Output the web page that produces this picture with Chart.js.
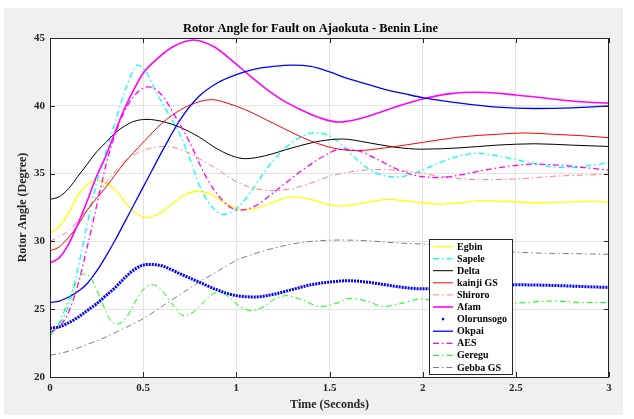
<!DOCTYPE html>
<html lang="en">
<head>
<meta charset="UTF-8">
<title>Rotor Angle for Fault on Ajaokuta - Benin Line</title>
<script src="https://cdn.jsdelivr.net/npm/chart.js"></script>
<style>
  html, body { margin: 0; padding: 0; background: #fff; }
</style>
</head>
<body>
<canvas id="rotorChart" width="634" height="419"></canvas>
<script>
// time (s), rotor angle (degree) pairs
const egbin = [[0,30.6],[0.05,31.1],[0.1,32.1],[0.15,33.4],[0.2,34.2],[0.26,34.5],[0.3,34.3],[0.35,33.8],[0.42,32.6],[0.47,32.0],[0.52,31.75],[0.58,32.0],[0.65,32.7],[0.72,33.4],[0.79,33.7],[0.86,33.5],[0.93,32.9],[1.0,32.45],[1.05,32.3],[1.12,32.5],[1.2,32.9],[1.3,33.3],[1.4,33.1],[1.5,32.7],[1.56,32.6],[1.65,32.75],[1.75,33.0],[1.81,33.1],[1.9,33.0],[2.0,32.85],[2.08,32.75],[2.2,32.85],[2.31,33.0],[2.45,32.95],[2.6,32.85],[2.75,32.9],[2.9,32.95],[3.0,32.9]];
const sapele = [[0,23.2],[0.05,23.9],[0.1,25.3],[0.15,28.0],[0.2,31.3],[0.25,34.3],[0.3,36.6],[0.35,38.8],[0.4,41.0],[0.44,42.4],[0.47,43.0],[0.51,42.6],[0.57,41.0],[0.64,39.3],[0.7,37.8],[0.75,36.1],[0.8,34.2],[0.86,32.7],[0.93,32.0],[1.0,32.4],[1.07,33.5],[1.13,34.7],[1.2,36.0],[1.3,37.3],[1.42,38.0],[1.5,37.8],[1.56,37.2],[1.65,36.0],[1.74,35.1],[1.86,34.75],[1.97,35.1],[2.09,35.8],[2.2,36.3],[2.29,36.5],[2.4,36.3],[2.55,35.9],[2.7,35.5],[2.8,35.45],[2.9,35.6],[3.0,35.8]];
const delta = [[0,33.1],[0.05,33.3],[0.1,33.9],[0.15,34.8],[0.2,35.7],[0.25,36.6],[0.3,37.3],[0.35,38.0],[0.4,38.5],[0.45,38.85],[0.52,39.0],[0.6,38.85],[0.7,38.4],[0.8,37.7],[0.9,36.8],[1.0,36.2],[1.05,36.1],[1.15,36.3],[1.3,36.9],[1.45,37.4],[1.57,37.55],[1.7,37.3],[1.85,36.95],[2.0,36.8],[2.2,36.9],[2.4,37.1],[2.6,37.2],[2.8,37.1],[3.0,37.0]];
const kainji = [[0,29.3],[0.05,29.6],[0.1,30.3],[0.15,31.2],[0.2,32.3],[0.3,34.0],[0.4,35.8],[0.5,37.3],[0.6,38.7],[0.7,39.7],[0.8,40.3],[0.87,40.45],[0.95,40.2],[1.05,39.7],[1.2,38.7],[1.4,37.4],[1.55,36.8],[1.65,36.7],[1.8,36.9],[2.0,37.3],[2.2,37.7],[2.4,37.9],[2.55,38.0],[2.7,37.9],[2.85,37.8],[3.0,37.65]];
const shiroro = [[0,30.0],[0.1,30.8],[0.2,32.4],[0.3,34.3],[0.4,35.9],[0.5,36.7],[0.6,37.0],[0.7,36.8],[0.8,36.1],[0.9,35.3],[1.0,34.4],[1.1,33.9],[1.2,33.75],[1.3,33.9],[1.4,34.3],[1.5,34.8],[1.6,35.1],[1.75,35.3],[1.9,35.2],[2.1,34.8],[2.3,34.55],[2.5,34.6],[2.7,34.8],[3.0,34.95]];
const afam = [[0,28.4],[0.05,28.8],[0.1,29.8],[0.15,31.3],[0.2,33.0],[0.25,34.8],[0.3,36.3],[0.35,38.1],[0.4,39.8],[0.45,41.2],[0.5,42.4],[0.57,43.4],[0.66,44.35],[0.77,44.85],[0.88,44.35],[0.98,43.3],[1.07,42.25],[1.16,41.25],[1.25,40.4],[1.34,39.75],[1.45,39.1],[1.55,38.8],[1.7,39.2],[1.85,39.9],[2.0,40.5],[2.15,40.9],[2.3,41.0],[2.5,40.8],[2.7,40.5],[2.85,40.3],[3.0,40.2]];
const olorunsogo = [[0,23.6],[0.05,23.7],[0.1,24.0],[0.15,24.4],[0.2,24.9],[0.25,25.4],[0.3,26.0],[0.35,26.6],[0.4,27.3],[0.45,27.9],[0.52,28.3],[0.6,28.2],[0.7,27.6],[0.8,27.0],[0.9,26.4],[1.0,26.0],[1.1,25.9],[1.2,26.1],[1.3,26.45],[1.4,26.8],[1.5,27.0],[1.6,27.1],[1.7,27.0],[1.8,26.8],[1.9,26.6],[2.0,26.5],[2.1,26.5],[2.3,26.6],[2.5,26.8],[2.7,26.75],[2.9,26.65],[3.0,26.6]];
const okpai = [[0,25.5],[0.05,25.6],[0.1,25.9],[0.15,26.3],[0.2,26.9],[0.25,27.8],[0.3,28.9],[0.35,30.1],[0.4,31.4],[0.45,32.7],[0.5,34.0],[0.55,35.3],[0.6,36.6],[0.7,39.0],[0.8,40.7],[0.9,41.7],[1.0,42.3],[1.1,42.7],[1.2,42.9],[1.3,43.0],[1.4,42.9],[1.5,42.5],[1.6,42.0],[1.7,41.6],[1.8,41.2],[1.9,40.9],[2.0,40.6],[2.2,40.2],[2.4,39.9],[2.6,39.8],[2.8,39.85],[3.0,40.0]];
const aes = [[0,23.3],[0.05,23.7],[0.1,24.8],[0.15,26.8],[0.2,29.6],[0.25,32.6],[0.3,35.6],[0.35,37.9],[0.4,39.6],[0.45,40.7],[0.5,41.3],[0.53,41.4],[0.6,40.8],[0.66,39.5],[0.75,37.3],[0.81,35.5],[0.88,33.8],[0.97,32.5],[1.02,32.3],[1.1,32.6],[1.2,33.6],[1.3,34.7],[1.38,35.5],[1.47,36.3],[1.56,36.8],[1.65,36.7],[1.75,36.1],[1.85,35.4],[1.95,34.9],[2.09,34.7],[2.2,34.9],[2.35,35.3],[2.5,35.6],[2.6,35.7],[2.75,35.6],[2.9,35.4],[3.0,35.25]];
const geregu = [[0,23.0],[0.05,24.0],[0.1,25.7],[0.15,27.2],[0.18,27.6],[0.22,27.3],[0.27,25.8],[0.32,24.3],[0.36,23.9],[0.41,24.4],[0.46,25.6],[0.51,26.6],[0.55,26.8],[0.6,26.4],[0.66,25.3],[0.72,24.5],[0.77,24.8],[0.83,25.6],[0.9,26.25],[0.95,26.0],[1.02,25.2],[1.08,24.9],[1.15,25.2],[1.2,25.7],[1.27,26.0],[1.35,25.7],[1.45,25.2],[1.53,25.4],[1.61,25.8],[1.7,25.6],[1.79,25.2],[1.88,25.4],[1.99,25.75],[2.1,25.5],[2.2,25.3],[2.3,25.4],[2.5,25.45],[2.7,25.6],[2.85,25.5],[3.0,25.5]];
const gebba = [[0,21.6],[0.1,21.9],[0.2,22.4],[0.3,22.95],[0.4,23.6],[0.5,24.3],[0.6,25.2],[0.7,26.1],[0.8,27.0],[0.9,27.8],[1.0,28.6],[1.1,29.1],[1.2,29.5],[1.3,29.8],[1.4,30.0],[1.56,30.1],[1.7,30.05],[1.85,29.9],[2.0,29.8],[2.2,29.6],[2.4,29.3],[2.6,29.15],[2.8,29.1],[3.0,29.05]];

const xTicks = [0, 0.5, 1, 1.5, 2, 2.5, 3];
const yTicks = [20, 25, 30, 35, 40, 45];

const serif = "'Liberation Serif', 'Times New Roman', serif";
const dashDot = [6, 3, 1.5, 3];

const series = [
  { label: 'Egbin',      data: egbin,      color: '#ffff00', width: 1.3, dash: [] },
  { label: 'Sapele',     data: sapele,     color: '#00ffff', width: 1.3, dash: dashDot },
  { label: 'Delta',      data: delta,      color: '#000000', width: 1,   dash: [] },
  { label: 'kainji GS',  data: kainji,     color: '#ff0000', width: 1,   dash: [] },
  { label: 'Shiroro',    data: shiroro,    color: '#ff8080', width: 1,   dash: dashDot },
  { label: 'Afam',       data: afam,       color: '#ff00ff', width: 1.6, dash: [] },
  { label: 'Olorunsogo', data: olorunsogo, color: '#0000ff', width: 3,   dash: [2, 1], dots: true },
  { label: 'Okpai',      data: okpai,      color: '#0000ff', width: 1.3, dash: [] },
  { label: 'AES',        data: aes,        color: '#ff00ff', width: 1.3, dash: dashDot },
  { label: 'Geregu',     data: geregu,     color: '#00ff00', width: 1,   dash: dashDot },
  { label: 'Gebba GS',   data: gebba,      color: '#808080', width: 1,   dash: dashDot }
];

const datasets = series.map((s, i) => ({
  label: s.label,
  data: s.data.map(p => ({ x: p[0], y: p[1] })),
  borderColor: s.color,
  backgroundColor: s.color,
  borderWidth: s.width,
  borderDash: s.dash,
  pointRadius: 0,
  fill: false,
  cubicInterpolationMode: 'monotone',
  order: series.length - i
}));

// grey figure background, white axes
const figureBg = {
  id: 'figureBg',
  beforeDraw(chart) {
    const ctx = chart.ctx, a = chart.chartArea;
    ctx.save();
    ctx.fillStyle = '#fff';
    ctx.fillRect(0, 0, chart.width, chart.height);
    ctx.fillStyle = '#f0f0f0';
    ctx.fillRect(4, 8, 619, 407);
    ctx.fillStyle = '#fff';
    ctx.fillRect(a.left, a.top, a.right - a.left, a.bottom - a.top);
    ctx.restore();
  }
};

// axes box with inner ticks on all sides, then the legend
const boxAndLegend = {
  id: 'boxAndLegend',
  afterDatasetsDraw(chart) {
    const ctx = chart.ctx, a = chart.chartArea;
    const xs = chart.scales.x, ys = chart.scales.y;
    ctx.save();
    ctx.strokeStyle = '#262626';
    ctx.lineWidth = 1;
    ctx.setLineDash([]);
    ctx.strokeRect(Math.round(a.left) + 0.5, Math.round(a.top) + 0.5,
                   Math.round(a.right - a.left) - 1, Math.round(a.bottom - a.top));
    ctx.beginPath();
    xTicks.forEach(v => {
      const px = Math.round(xs.getPixelForValue(v)) + 0.5;
      ctx.moveTo(px, a.bottom); ctx.lineTo(px, a.bottom - 5);
      ctx.moveTo(px, a.top); ctx.lineTo(px, a.top + 5);
    });
    yTicks.forEach(v => {
      const py = Math.round(ys.getPixelForValue(v)) + 0.5;
      ctx.moveTo(a.left, py); ctx.lineTo(a.left + 5, py);
      ctx.moveTo(a.right, py); ctx.lineTo(a.right - 5, py);
    });
    ctx.stroke();

    // legend
    const lx = 429.5, ly = 239.5, lw = 83, lh = 135, row = 12.1;
    ctx.fillStyle = '#fff';
    ctx.fillRect(lx, ly, lw, lh);
    ctx.strokeStyle = '#262626';
    ctx.strokeRect(lx, ly, lw, lh);
    ctx.font = 'bold 10px ' + serif;
    ctx.textBaseline = 'middle';
    ctx.textAlign = 'left';
    series.forEach((s, i) => {
      const y = 246.5 + i * row;
      ctx.strokeStyle = s.color;
      ctx.fillStyle = s.color;
      if (s.dots) {
        ctx.beginPath();
        ctx.arc(443, y, 1.3, 0, Math.PI * 2);
        ctx.fill();
      } else {
        ctx.lineWidth = s.width;
        ctx.setLineDash(s.dash);
        ctx.beginPath();
        ctx.moveTo(433, y); ctx.lineTo(453, y);
        ctx.stroke();
      }
      ctx.setLineDash([]);
      ctx.fillStyle = '#000';
      ctx.fillText(s.label, 457, y + 0.5);
    });
    ctx.restore();
  }
};

new Chart(document.getElementById('rotorChart').getContext('2d'), {
  type: 'line',
  data: { datasets: datasets },
  options: {
    responsive: false,
    animation: false,
    layout: { padding: { top: 8, left: 12, right: 25, bottom: 3 } },
    plugins: {
      legend: { display: false },
      tooltip: { enabled: false },
      title: {
        display: true,
        text: 'Rotor Angle for Fault on Ajaokuta - Benin Line',
        color: '#000',
        font: { family: serif, size: 12.5, weight: 'bold' },
        padding: { top: 13, bottom: 2 }
      }
    },
    scales: {
      x: {
        type: 'linear',
        min: 0, max: 3,
        afterFit: s => { s.height = 39; },
        afterBuildTicks: s => { s.ticks = xTicks.map(v => ({ value: v })); },
        grid: { color: '#e3e3e3', drawTicks: false },
        border: { display: false },
        ticks: {
          padding: 5, color: '#262626', font: { family: serif, size: 11, weight: 'bold' },
          callback: v => String(v)
        },
        title: {
          display: true, text: 'Time (Seconds)', color: '#262626',
          font: { family: serif, size: 12, weight: 'bold' }, padding: { top: 4, bottom: 4 }
        }
      },
      y: {
        min: 20, max: 45,
        afterFit: s => { s.width = 38; },
        afterBuildTicks: s => { s.ticks = yTicks.map(v => ({ value: v })); },
        grid: { color: '#e3e3e3', drawTicks: false },
        border: { display: false },
        ticks: {
          padding: 5, color: '#262626', font: { family: serif, size: 11, weight: 'bold' },
          callback: v => String(v)
        },
        title: {
          display: true, text: 'Rotor Angle (Degree)', color: '#262626',
          font: { family: serif, size: 12, weight: 'bold' }, padding: { top: 4, bottom: 4 }
        }
      }
    }
  },
  plugins: [figureBg, boxAndLegend]
});
</script>
</body>
</html>
